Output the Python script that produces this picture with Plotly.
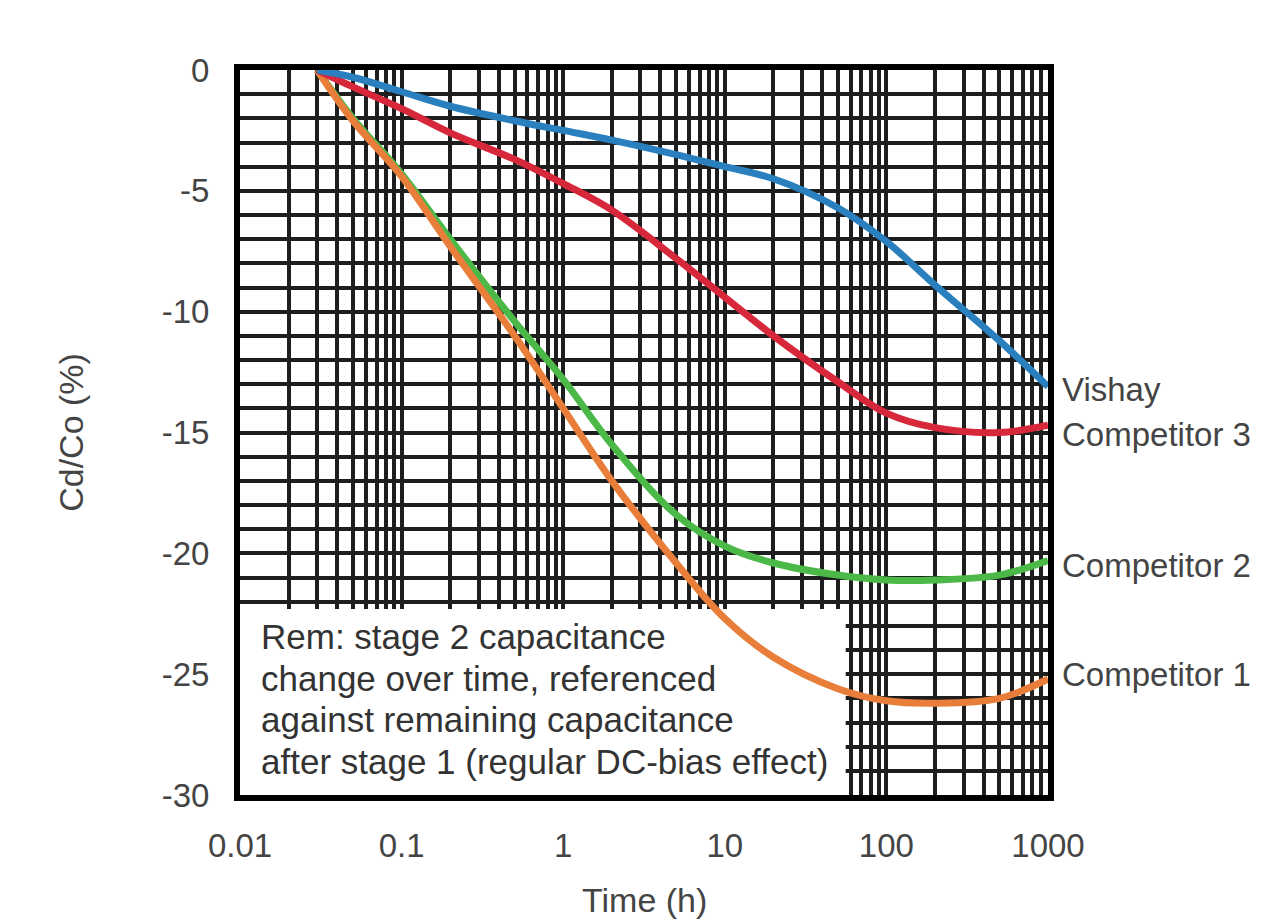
import math

import plotly.graph_objects as go

# Time (h) sample points
time_h = [0.03, 0.05, 0.1, 0.2, 0.5, 1, 2, 5, 10, 20, 50, 100, 200, 500, 1000]

# Cd/Co (%) per part
vishay = [0, -0.3, -0.9, -1.5, -2.1, -2.5, -2.9, -3.5, -4.0, -4.5, -5.7, -7.1, -8.9, -11.2, -13.1]
competitor_3 = [0, -0.7, -1.6, -2.6, -3.7, -4.7, -5.8, -7.8, -9.4, -11.0, -12.9, -14.2, -14.8, -15.0, -14.7]
competitor_2 = [0, -2.0, -4.3, -7.0, -10.4, -12.8, -15.5, -18.4, -19.7, -20.4, -20.9, -21.1, -21.1, -20.9, -20.3]
competitor_1 = [0, -2.1, -4.4, -7.3, -11.0, -14.0, -17.0, -20.4, -22.7, -24.3, -25.6, -26.1, -26.2, -26.0, -25.2]

x_ticks = [0.01, 0.1, 1, 10, 100, 1000]
x_tick_text = ["0.01", "0.1", "1", "10", "100", "1000"]
y_ticks = [0, -5, -10, -15, -20, -25, -30]
y_tick_text = ["0", "-5", "-10", "-15", "-20", "-25", "-30"]

series = [
    ("Competitor 2", competitor_2, "#4cb847"),
    ("Competitor 1", competitor_1, "#e87e3a"),
    ("Competitor 3", competitor_3, "#d6283a"),
    ("Vishay", vishay, "#2a80bf"),
]
# label y positions at the right edge
label_y = {"Vishay": -13.2, "Competitor 3": -15.1, "Competitor 2": -20.5, "Competitor 1": -25.0}

note_lines = [
    "Rem: stage 2 capacitance",
    "change over time, referenced",
    "against remaining capacitance",
    "after stage 1 (regular DC-bias effect)",
]

FONT = "Liberation Sans, Arial, sans-serif"
TEXT_COLOR = "#444444"
GRID = "#1e1e1e"

fig = go.Figure()
for name, ys, color in series:
    fig.add_trace(
        go.Scatter(
            x=time_h,
            y=ys,
            name=name,
            mode="lines",
            line=dict(color=color, width=7, shape="spline", smoothing=1.0),
        )
    )

# white note box sits over the grid but under the curves
fig.add_shape(
    type="rect",
    xref="x",
    yref="y",
    x0=0.01,
    x1=56,
    y0=-30,
    y1=-22.3,
    fillcolor="white",
    line=dict(width=0),
    layer="between",
)
for i, line in enumerate(note_lines):
    fig.add_annotation(
        x=math.log10(0.0132),  # log axis: annotation x is in log10 units
        y=-23.45 - 1.72 * i,
        xref="x",
        yref="y",
        text=line,
        showarrow=False,
        xanchor="left",
        yanchor="middle",
        font=dict(family=FONT, size=35, color="#333333"),
    )

for name, y in label_y.items():
    fig.add_annotation(
        x=1.0,
        y=y,
        xref="paper",
        yref="y",
        text=name,
        showarrow=False,
        xanchor="left",
        xshift=12,
        font=dict(family=FONT, size=33, color=TEXT_COLOR),
    )

fig.add_annotation(
    x=0.5, y=-0.145, xref="paper", yref="paper", text="Time (h)", showarrow=False,
    yanchor="middle", font=dict(family=FONT, size=34, color=TEXT_COLOR),
)
fig.add_annotation(
    x=-0.21, y=0.5, xref="paper", yref="paper", text="Cd/Co (%)", showarrow=False,
    textangle=-90, xanchor="center", font=dict(family=FONT, size=34, color=TEXT_COLOR),
)

fig.update_xaxes(
    type="log",
    range=[-2, 3],
    tickvals=x_ticks,
    ticktext=x_tick_text,
    showgrid=True,
    gridcolor=GRID,
    gridwidth=4,
    minor=dict(dtick="D1", showgrid=True, gridcolor=GRID, gridwidth=4),
    showline=True,
    linecolor="black",
    linewidth=6,
    mirror=True,
    ticks="",
    ticklabelstandoff=16,
    tickfont=dict(family=FONT, size=33, color=TEXT_COLOR),
    zeroline=False,
)
fig.update_yaxes(
    range=[-30, 0],
    tickvals=y_ticks,
    ticktext=y_tick_text,
    showgrid=True,
    gridcolor=GRID,
    gridwidth=4,
    minor=dict(dtick=1, showgrid=True, gridcolor=GRID, gridwidth=4),
    showline=True,
    linecolor="black",
    linewidth=6,
    mirror=True,
    ticks="",
    ticklabelstandoff=18,
    tickfont=dict(family=FONT, size=33, color=TEXT_COLOR),
    zeroline=False,
)
fig.update_layout(
    width=1280,
    height=922,
    showlegend=False,
    plot_bgcolor="white",
    paper_bgcolor="white",
    margin=dict(l=232, r=240, t=62, b=135, autoexpand=False),
)
fig.write_html("out.html")
